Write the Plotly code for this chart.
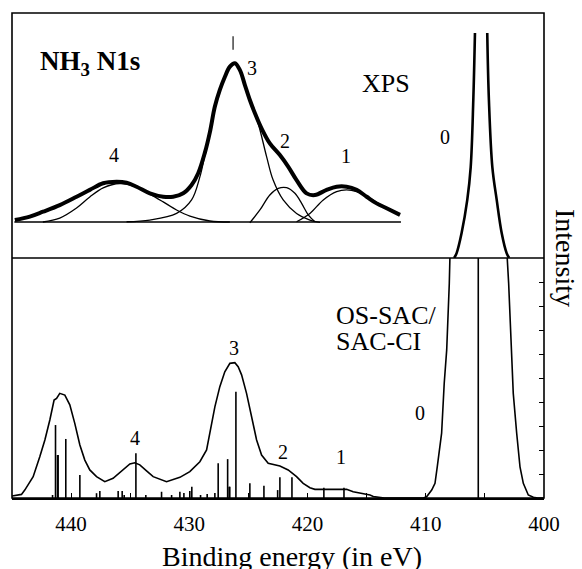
import plotly.graph_objects as go

# ---------------- data ----------------
# Calculated (OS-SAC/SAC-CI) convoluted spectrum, bottom panel
calc_e = [445.0, 444.20, 443.92, 443.21, 442.65, 442.22, 441.80, 441.44, 441.23, 440.96,
          440.53, 440.11, 439.69, 439.26, 438.84, 438.42, 437.85, 437.15, 436.45, 435.60,
          435.03, 434.61, 434.19, 433.62, 433.06, 431.93, 430.80, 429.96, 429.11, 428.54,
          428.26, 427.84, 427.42, 427.00, 426.57, 426.15, 425.87, 425.58, 425.16, 424.73,
          424.31, 423.89, 423.33, 422.34, 421.64, 420.93, 420.37, 419.80, 419.38, 418.39,
          416.70, 416.14, 415.29, 414.72, 414.44, 413.50, 410.21, 409.93, 409.50, 409.22,
          409.03, 408.66, 408.44, 408.23, 408.01, 407.96, 405.56, 403.11, 402.99, 402.79,
          402.60, 402.31, 402.03, 401.75, 401.33, 400.90, 400.54, 400.00]
calc_i = [0.08, 0.15, 0.33, 0.89, 1.72, 2.42, 3.25, 4.08, 4.15, 4.36,
          4.29, 3.88, 3.11, 2.21, 1.58, 1.17, 0.89, 0.68, 0.82, 1.17,
          1.42, 1.47, 1.38, 1.13, 0.89, 0.68, 0.86, 1.10, 1.51, 2.00,
          2.75, 3.80, 4.64, 5.26, 5.61, 5.64, 5.47, 5.13, 4.36, 3.39,
          2.42, 1.79, 1.45, 1.33, 1.17, 0.89, 0.61, 0.43, 0.36, 0.36,
          0.36, 0.26, 0.17, 0.125, 0.06, 0.0, 0.0, 0.05, 0.33, 0.61,
          1.30, 2.70, 4.78, 6.17, 8.95, 9.99, 16.0, 9.99, 8.95, 6.17,
          4.36, 2.70, 1.30, 0.61, 0.125, 0.03, 0.0, 0.0]

# Calculated stick spectrum (energies, intensities)
stick_e = [441.57, 441.32, 441.15, 441.10, 440.45, 439.26, 437.85, 437.57, 436.02, 435.68,
           435.51, 434.52, 433.68, 432.35, 431.50, 430.80, 430.46, 429.96, 429.79, 429.05,
           428.49, 427.84, 427.56, 426.76, 426.63, 426.58, 426.06, 424.88, 423.69, 422.53,
           422.34, 421.32, 418.62, 416.92, 405.56]
stick_h = [0.125, 3.04, 1.79, 1.79, 2.46, 0.96, 0.20, 0.29, 0.29, 0.29,
           0.125, 1.86, 0.125, 0.26, 0.125, 0.26, 0.21, 0.29, 0.47, 0.125,
           0.17, 0.21, 1.45, 1.62, 0.47, 0.47, 4.43, 0.61, 0.51, 0.33,
           0.86, 0.86, 0.43, 0.43, 40.0]

# Experimental XPS satellite region (inset, top panel)
xps_e = [444.76, 443.49, 442.37, 440.96, 439.54, 438.42, 437.29, 436.16, 435.31, 434.46,
         433.34, 432.21, 431.37, 430.52, 429.81, 429.25, 428.69, 428.26, 427.84, 427.42,
         426.99, 426.57, 426.15, 425.72, 425.30, 424.88, 424.45, 423.89, 423.19, 422.34,
         421.64, 420.93, 420.08, 419.38, 418.39, 417.54, 416.70, 415.85, 415.00, 414.16,
         413.31, 412.18]
xps_i = [0.155, 0.169, 0.189, 0.216, 0.250, 0.278, 0.305, 0.311, 0.307, 0.291,
         0.264, 0.250, 0.250, 0.264, 0.298, 0.346, 0.429, 0.514, 0.618, 0.686,
         0.740, 0.781, 0.795, 0.767, 0.706, 0.645, 0.591, 0.529, 0.468, 0.420,
         0.373, 0.318, 0.264, 0.257, 0.278, 0.291, 0.291, 0.278, 0.250, 0.223,
         0.203, 0.176]

# Fitted components
fit4_e = [442.39, 440.96, 439.54, 438.42, 437.29, 435.88, 434.46, 433.34, 432.21, 431.08, 429.95, 428.26, 426.57]
fit4_i = [0.147, 0.163, 0.204, 0.249, 0.286, 0.304, 0.290, 0.261, 0.229, 0.196, 0.171, 0.151, 0.147]
fit3_e = [435.31, 433.34, 431.08, 429.81, 429.11, 428.69, 428.26, 427.84, 427.42, 426.99, 426.57,
          426.15, 425.72, 425.30, 424.88, 424.18, 423.46, 422.91, 422.06, 420.93, 419.80, 418.95]
fit3_i = [0.148, 0.155, 0.182, 0.237, 0.331, 0.420, 0.514, 0.608, 0.678, 0.735, 0.778,
          0.795, 0.767, 0.710, 0.649, 0.550, 0.413, 0.318, 0.237, 0.182, 0.155, 0.145]
fit2_e = [424.88, 424.03, 423.19, 422.48, 421.77, 421.07, 420.50, 419.94, 419.38]
fit2_i = [0.144, 0.196, 0.257, 0.284, 0.287, 0.264, 0.223, 0.176, 0.148]
fit1_e = [420.93, 419.80, 418.67, 417.54, 416.70, 415.85, 414.72, 413.31, 412.18]
fit1_i = [0.148, 0.182, 0.237, 0.271, 0.278, 0.271, 0.244, 0.203, 0.176]
base_e = [444.8, 412.1]
base_i = [0.147, 0.147]

# Main XPS line (0), truncated at top
peak0_e = [407.60, 407.39, 406.97, 406.49, 406.20, 405.98, 405.84, None,
           404.80, 404.66, 404.37, 404.00, 403.58, 403.16, 402.95]
peak0_i = [0.0, 0.02, 0.102, 0.237, 0.371, 0.645, 0.918, None,
           0.918, 0.645, 0.371, 0.237, 0.102, 0.02, 0.0]
mark3_e = [426.3, 426.3]
mark3_i = [0.85, 0.905]

tick_vals = [440, 430, 420, 410, 400]
tick_text = ["440", "430", "420", "410", "400"]
int_ticks = list(range(0, 11))

# ---------------- figure ----------------
SERIF = "Liberation Serif, Times New Roman, serif"
W, H = 582, 569
L, R, T, B = 12, 38, 13, 71
PW, PH = W - L - R, H - T - B
DIV = (498 - 258) / PH


def P(px, py):
    return (px - L) / PW, (H - B - py) / PH


fig = go.Figure()

# bottom panel
fig.add_trace(go.Scatter(x=calc_e, y=calc_i, mode="lines",
                         line=dict(color="black", width=1.6), xaxis="x", yaxis="y"))
sx, sy = [], []
for e, h in zip(stick_e, stick_h):
    sx += [e, e, None]
    sy += [0, h, None]
fig.add_trace(go.Scatter(x=sx, y=sy, mode="lines",
                         line=dict(color="black", width=1.6), xaxis="x", yaxis="y"))

# top panel
fig.add_trace(go.Scatter(x=base_e, y=base_i, mode="lines",
                         line=dict(color="black", width=1.6), xaxis="x2", yaxis="y2"))
for fe, fi in [(fit4_e, fit4_i), (fit3_e, fit3_i), (fit2_e, fit2_i), (fit1_e, fit1_i)]:
    fig.add_trace(go.Scatter(x=fe, y=fi, mode="lines", line_shape="spline",
                             line=dict(color="black", width=1.3), xaxis="x2", yaxis="y2"))
fig.add_trace(go.Scatter(x=xps_e, y=xps_i, mode="lines", line_shape="spline",
                         line=dict(color="black", width=4), xaxis="x2", yaxis="y2"))
fig.add_trace(go.Scatter(x=peak0_e, y=peak0_i, mode="lines", line_shape="spline",
                         line=dict(color="black", width=2.6), xaxis="x2", yaxis="y2",
                         connectgaps=False))
fig.add_trace(go.Scatter(x=mark3_e, y=mark3_i, mode="lines",
                         line=dict(color="#444", width=1.5), xaxis="x2", yaxis="y2"))

ann = []


def label(text, px, py, size=20, xanchor="center", bold=False, angle=0):
    x, y = P(px, py)
    ann.append(dict(text=(f"<b>{text}</b>" if bold else text), x=x, y=y, xref="paper", yref="paper",
                    xanchor=xanchor, yanchor="middle", showarrow=False, textangle=angle,
                    font=dict(family=SERIF, size=size, color="black")))


label("NH<sub>3</sub> N1s", 90, 63, size=27, bold=True)
label("XPS", 386, 83, size=26)
label("0", 445, 137, size=20)
label("4", 114, 155)
label("3", 252, 68)
label("2", 285, 141)
label("1", 346, 156)
label("3", 234, 348)
label("4", 135, 438)
label("2", 283, 452)
label("1", 341, 457)
label("0", 420, 413)
label("OS-SAC/", 334, 315, size=26, xanchor="left")
label("SAC-CI", 334, 341, size=26, xanchor="left")
label("Intensity", 566, 258, size=28, angle=90)
label("Binding energy (in eV)", 292, 556, size=28)

fig.update_layout(
    width=W, height=H, margin=dict(l=L, r=R, t=T, b=B),
    paper_bgcolor="white", plot_bgcolor="white", showlegend=False,
    annotations=ann,
    xaxis=dict(domain=[0, 1], range=[445, 400], anchor="y", tickvals=tick_vals, ticktext=tick_text,
               ticks="inside", ticklen=5, tickwidth=1.3, tickcolor="black",
               minor=dict(ticks="inside", ticklen=5, tickwidth=1.3, tickcolor="black",
                          tick0=445, dtick=5, showgrid=False),
               showline=True, linewidth=1.6, linecolor="black", showgrid=False, zeroline=False,
               tickfont=dict(family=SERIF, size=21, color="black"), ticklabelstandoff=6),
    yaxis=dict(domain=[0, DIV], range=[0, 10], anchor="x", side="right", tickvals=int_ticks,
               ticks="inside", ticklen=5, tickwidth=1.3, tickcolor="black", showticklabels=False,
               showline=False, showgrid=False, zeroline=False),
    xaxis2=dict(domain=[0, 1], range=[445, 400], anchor="y2", visible=False),
    yaxis2=dict(domain=[DIV, 1], range=[0, 1], anchor="x2", visible=False),
    shapes=[
        dict(type="rect", xref="paper", yref="paper", x0=0, y0=0, x1=1, y1=1,
             line=dict(color="black", width=1.6)),
        dict(type="line", xref="paper", yref="paper", x0=0, y0=DIV, x1=1, y1=DIV,
             line=dict(color="black", width=1.6)),
    ],
)

fig.write_html("out.html", config={"displayModeBar": False},
               post_script="document.body.style.margin='0';document.body.style.overflow='hidden';")
